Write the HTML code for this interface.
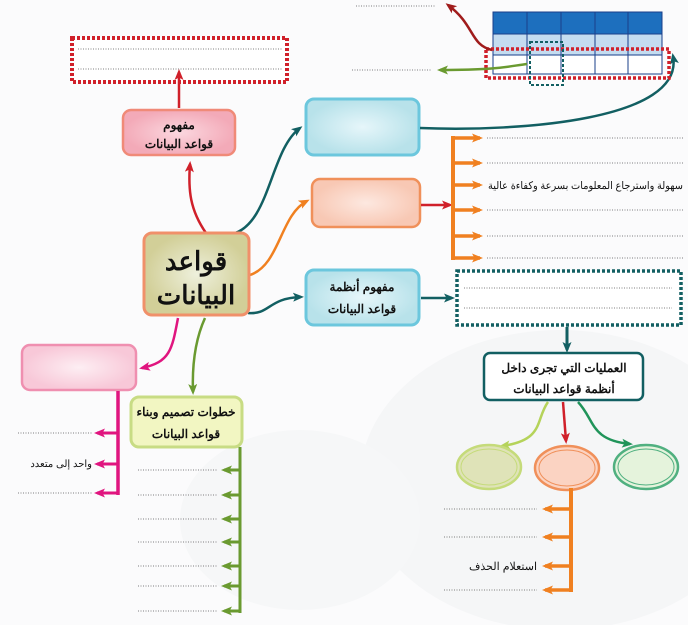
<!DOCTYPE html>
<html><head><meta charset="utf-8"><style>
html,body{margin:0;padding:0;background:#fff}
svg{display:block}
text{font-family:"Liberation Sans","Noto Sans CJK SC",sans-serif;font-weight:bold;fill:#111}
.n{font-weight:normal}
</style></head><body>
<svg width="688" height="625" viewBox="0 0 688 625" xmlns="http://www.w3.org/2000/svg">
<defs>
<marker id="aR" markerWidth="11" markerHeight="9" refX="8" refY="4.5" orient="auto" markerUnits="userSpaceOnUse"><path d="M0,0 L11,4.5 L0,9 L2.5,4.5z" fill="#d0202a"/></marker>
<marker id="aDR" markerWidth="11" markerHeight="9" refX="8" refY="4.5" orient="auto" markerUnits="userSpaceOnUse"><path d="M0,0 L11,4.5 L0,9 L2.5,4.5z" fill="#a01c1c"/></marker>
<marker id="aT" markerWidth="11" markerHeight="9" refX="8" refY="4.5" orient="auto" markerUnits="userSpaceOnUse"><path d="M0,0 L11,4.5 L0,9 L2.5,4.5z" fill="#125f62"/></marker>
<marker id="aO" markerWidth="11" markerHeight="9" refX="8" refY="4.5" orient="auto" markerUnits="userSpaceOnUse"><path d="M0,0 L11,4.5 L0,9 L2.5,4.5z" fill="#f08020"/></marker>
<marker id="aM" markerWidth="11" markerHeight="9" refX="8" refY="4.5" orient="auto" markerUnits="userSpaceOnUse"><path d="M0,0 L11,4.5 L0,9 L2.5,4.5z" fill="#e0157f"/></marker>
<marker id="aG" markerWidth="11" markerHeight="9" refX="8" refY="4.5" orient="auto" markerUnits="userSpaceOnUse"><path d="M0,0 L11,4.5 L0,9 L2.5,4.5z" fill="#6a9a30"/></marker>
<marker id="aLG" markerWidth="11" markerHeight="9" refX="8" refY="4.5" orient="auto" markerUnits="userSpaceOnUse"><path d="M0,0 L11,4.5 L0,9 L2.5,4.5z" fill="#b5d35a"/></marker>
<marker id="aGG" markerWidth="11" markerHeight="9" refX="8" refY="4.5" orient="auto" markerUnits="userSpaceOnUse"><path d="M0,0 L11,4.5 L0,9 L2.5,4.5z" fill="#20945a"/></marker>
<radialGradient id="gC"><stop offset="0" stop-color="#eef0dc"/><stop offset="1" stop-color="#d2cf98"/></radialGradient>
<radialGradient id="gB"><stop offset="0" stop-color="#e6f6fa"/><stop offset="1" stop-color="#b8e2ea"/></radialGradient>
<radialGradient id="gO"><stop offset="0" stop-color="#fde8e0"/><stop offset="1" stop-color="#f8c8b4"/></radialGradient>
<radialGradient id="gP"><stop offset="0" stop-color="#fdeef3"/><stop offset="1" stop-color="#f8c8d8"/></radialGradient>
<radialGradient id="gR"><stop offset="0" stop-color="#fbd7df"/><stop offset="1" stop-color="#f3aab8"/></radialGradient>
</defs>
<rect width="688" height="625" fill="#fbfbfc"/>
<ellipse cx="560" cy="480" rx="200" ry="150" fill="#f5f6f7"/>
<ellipse cx="300" cy="520" rx="120" ry="90" fill="#f6f7f8"/>

<rect x="72" y="38" width="215" height="44" fill="#fff" stroke="#d0202a" stroke-width="4" stroke-dasharray="3,2"/>
<line x1="78" y1="49" x2="282" y2="49" stroke="#555" stroke-width="0.7" stroke-dasharray="1,1.5"/>
<line x1="78" y1="69" x2="282" y2="69" stroke="#555" stroke-width="0.7" stroke-dasharray="1,1.5"/>
<line x1="179" y1="108" x2="179" y2="72" stroke="#d0202a" stroke-width="2.5" marker-end="url(#aR)"/>

<rect x="123" y="110" width="112" height="45" rx="8" fill="url(#gR)" stroke="#f08a78" stroke-width="2.5"/>
<text x="179" y="129" font-size="12" text-anchor="middle">مفهوم</text>
<text x="179" y="148" font-size="12" text-anchor="middle">قواعد البيانات</text>
<path d="M206,233 C190,210 188,190 190,164" fill="none" stroke="#d0202a" stroke-width="2.5" marker-end="url(#aR)"/>

<path d="M232,234 C270,225 270,150 300,128" fill="none" stroke="#125f62" stroke-width="2.5" marker-end="url(#aT)"/>
<path d="M250,275 C280,265 280,215 307,201" fill="none" stroke="#f08020" stroke-width="2.5" marker-end="url(#aO)"/>
<path d="M248,313 C270,315 268,298 301,297" fill="none" stroke="#125f62" stroke-width="2.5" marker-end="url(#aT)"/>
<path d="M178,318 C172,350 170,362 142,368" fill="none" stroke="#e0157f" stroke-width="2.5" marker-end="url(#aM)"/>
<path d="M205,318 C195,340 192,365 193,392" fill="none" stroke="#6a9a30" stroke-width="2.5" marker-end="url(#aG)"/>

<rect x="144" y="233" width="105" height="82" rx="8" fill="url(#gC)" stroke="#f0906a" stroke-width="3"/>
<text x="196" y="270" font-size="26" text-anchor="middle">قواعد</text>
<text x="196" y="304" font-size="26" text-anchor="middle">البيانات</text>

<rect x="306" y="99" width="113" height="56" rx="8" fill="url(#gB)" stroke="#6cc7dd" stroke-width="3"/>
<path d="M420,128 C520,132 685,120 673,56" fill="none" stroke="#125f62" stroke-width="2.5" marker-end="url(#aT)"/>

<rect x="312" y="179" width="108" height="48" rx="8" fill="url(#gO)" stroke="#f0905a" stroke-width="2.5"/>
<line x1="421" y1="205" x2="450" y2="205" stroke="#d0202a" stroke-width="2.5" marker-end="url(#aR)"/>
<line x1="453" y1="136" x2="453" y2="260" stroke="#f08020" stroke-width="4"/>
<g stroke="#f08020" stroke-width="3.5" marker-end="url(#aO)">
<line x1="452" y1="138" x2="480" y2="138"/>
<line x1="452" y1="163" x2="480" y2="163"/>
<line x1="452" y1="185" x2="480" y2="185"/>
<line x1="452" y1="210" x2="480" y2="210"/>
<line x1="452" y1="236" x2="480" y2="236"/>
<line x1="452" y1="258" x2="480" y2="258"/>
</g>
<g stroke="#555" stroke-width="0.7" stroke-dasharray="1,1.5">
<line x1="487" y1="138" x2="683" y2="138"/>
<line x1="487" y1="163" x2="683" y2="163"/>
<line x1="487" y1="210" x2="683" y2="210"/>
<line x1="487" y1="236" x2="683" y2="236"/>
<line x1="487" y1="258" x2="683" y2="258"/>
</g>
<text x="683" y="189" font-size="10.5" text-anchor="end" class="n" textLength="195" lengthAdjust="spacingAndGlyphs">سهولة واسترجاع المعلومات بسرعة وكفاءة عالية</text>

<rect x="306" y="270" width="113" height="55" rx="8" fill="url(#gB)" stroke="#6cc7dd" stroke-width="3"/>
<text x="362" y="291" font-size="12" text-anchor="middle">مفهوم أنظمة</text>
<text x="362" y="313" font-size="12" text-anchor="middle">قواعد البيانات</text>
<line x1="421" y1="298" x2="452" y2="298" stroke="#125f62" stroke-width="2.5" marker-end="url(#aT)"/>
<rect x="457" y="271" width="224" height="54" fill="#fff" stroke="#125f62" stroke-width="3.5" stroke-dasharray="3,2"/>
<line x1="464" y1="288" x2="672" y2="288" stroke="#555" stroke-width="0.7" stroke-dasharray="1,1.5"/>
<line x1="464" y1="308" x2="672" y2="308" stroke="#555" stroke-width="0.7" stroke-dasharray="1,1.5"/>
<line x1="567" y1="327" x2="567" y2="350" stroke="#125f62" stroke-width="3" marker-end="url(#aT)"/>

<rect x="484" y="353" width="159" height="47" rx="6" fill="#fff" stroke="#125f62" stroke-width="2.5"/>
<text x="564" y="372" font-size="12" text-anchor="middle">العمليات التي تجرى داخل</text>
<text x="564" y="393" font-size="12" text-anchor="middle">أنظمة قواعد البيانات</text>
<path d="M548,402 C535,420 545,440 502,446" fill="none" stroke="#b5d35a" stroke-width="2.5" marker-end="url(#aLG)"/>
<line x1="563" y1="402" x2="566" y2="441" stroke="#d0202a" stroke-width="2.5" marker-end="url(#aR)"/>
<path d="M578,402 C595,420 590,440 630,444" fill="none" stroke="#20945a" stroke-width="2.5" marker-end="url(#aGG)"/>
<ellipse cx="489" cy="467" rx="32" ry="22" fill="#dfe3b8" stroke="#c5db7a" stroke-width="2.5"/>
<ellipse cx="489" cy="467" rx="28" ry="18" fill="none" stroke="#c5db7a" stroke-width="1"/>
<ellipse cx="567" cy="468" rx="32" ry="22" fill="#fbd3c2" stroke="#f0905a" stroke-width="2.5"/>
<ellipse cx="567" cy="468" rx="28" ry="18" fill="none" stroke="#f0905a" stroke-width="1"/>
<ellipse cx="646" cy="467" rx="32" ry="22" fill="#e5f3dc" stroke="#50b080" stroke-width="2.5"/>
<ellipse cx="646" cy="467" rx="28" ry="18" fill="none" stroke="#50b080" stroke-width="1"/>
<line x1="571" y1="488" x2="571" y2="592" stroke="#f08020" stroke-width="4"/>
<g stroke="#f08020" stroke-width="3.5" marker-end="url(#aO)">
<line x1="572" y1="509" x2="545" y2="509"/>
<line x1="572" y1="537" x2="545" y2="537"/>
<line x1="572" y1="566" x2="545" y2="566"/>
<line x1="572" y1="590" x2="545" y2="590"/>
</g>
<g stroke="#555" stroke-width="0.7" stroke-dasharray="1,1.5">
<line x1="444" y1="509" x2="537" y2="509"/>
<line x1="444" y1="537" x2="537" y2="537"/>
<line x1="444" y1="590" x2="537" y2="590"/>
</g>
<text x="537" y="570" font-size="11" text-anchor="end" class="n">استعلام الحذف</text>

<rect x="493" y="12" width="169" height="22" fill="#1d6fbe"/>
<rect x="493" y="34" width="169" height="21" fill="#c4dcf0"/>
<rect x="493" y="55" width="169" height="19" fill="#fff"/>
<g stroke="#1a3f8a" stroke-width="1" fill="none">
<rect x="493" y="12" width="169" height="62"/>
<line x1="493" y1="34" x2="662" y2="34"/><line x1="493" y1="55" x2="662" y2="55"/>
<line x1="527" y1="12" x2="527" y2="74"/><line x1="561" y1="12" x2="561" y2="74"/>
<line x1="595" y1="12" x2="595" y2="74"/><line x1="628" y1="12" x2="628" y2="74"/>
</g>
<rect x="486" y="49" width="183" height="29" fill="none" stroke="#d0202a" stroke-width="3.5" stroke-dasharray="3,2"/>
<rect x="530" y="42" width="33" height="43" fill="none" stroke="#125f62" stroke-width="2" stroke-dasharray="3,2"/>
<path d="M492,50 C470,45 475,25 448,5" fill="none" stroke="#a01c1c" stroke-width="2.5" marker-end="url(#aDR)"/>
<line x1="356" y1="6" x2="436" y2="6" stroke="#555" stroke-width="0.7" stroke-dasharray="1,1.5"/>
<path d="M527,64 C510,66 500,70 440,70" fill="none" stroke="#6a9a30" stroke-width="2.5" marker-end="url(#aG)"/>
<line x1="352" y1="70" x2="432" y2="70" stroke="#555" stroke-width="0.7" stroke-dasharray="1,1.5"/>

<rect x="22" y="345" width="114" height="45" rx="8" fill="url(#gP)" stroke="#ef8fb0" stroke-width="2.5"/>
<line x1="118" y1="391" x2="118" y2="495" stroke="#e0157f" stroke-width="3.5"/>
<g stroke="#e0157f" stroke-width="3" marker-end="url(#aM)">
<line x1="119" y1="433" x2="97" y2="433"/>
<line x1="119" y1="464" x2="97" y2="464"/>
<line x1="119" y1="493" x2="97" y2="493"/>
</g>
<line x1="18" y1="433" x2="92" y2="433" stroke="#555" stroke-width="0.7" stroke-dasharray="1,1.5"/>
<line x1="18" y1="493" x2="92" y2="493" stroke="#555" stroke-width="0.7" stroke-dasharray="1,1.5"/>
<text x="92" y="467" font-size="10" text-anchor="end" class="n">واحد إلى متعدد</text>

<rect x="131" y="397" width="111" height="50" rx="8" fill="#f2f6c2" stroke="#c8dc84" stroke-width="3"/>
<text x="186" y="416" font-size="12" text-anchor="middle">خطوات تصميم وبناء</text>
<text x="186" y="438" font-size="12" text-anchor="middle">قواعد البيانات</text>
<line x1="240" y1="447" x2="240" y2="613" stroke="#6a9a30" stroke-width="3"/>
<g stroke="#6a9a30" stroke-width="3" marker-end="url(#aG)">
<line x1="241" y1="470" x2="224" y2="470"/>
<line x1="241" y1="495" x2="224" y2="495"/>
<line x1="241" y1="519" x2="224" y2="519"/>
<line x1="241" y1="542" x2="224" y2="542"/>
<line x1="241" y1="566" x2="224" y2="566"/>
<line x1="241" y1="586" x2="224" y2="586"/>
<line x1="241" y1="611" x2="224" y2="611"/>
</g>
<g stroke="#555" stroke-width="0.7" stroke-dasharray="1,1.5">
<line x1="138" y1="470" x2="218" y2="470"/>
<line x1="138" y1="495" x2="218" y2="495"/>
<line x1="138" y1="519" x2="218" y2="519"/>
<line x1="138" y1="542" x2="218" y2="542"/>
<line x1="138" y1="566" x2="218" y2="566"/>
<line x1="138" y1="586" x2="218" y2="586"/>
<line x1="138" y1="611" x2="218" y2="611"/>
</g>
</svg>
</body></html>
